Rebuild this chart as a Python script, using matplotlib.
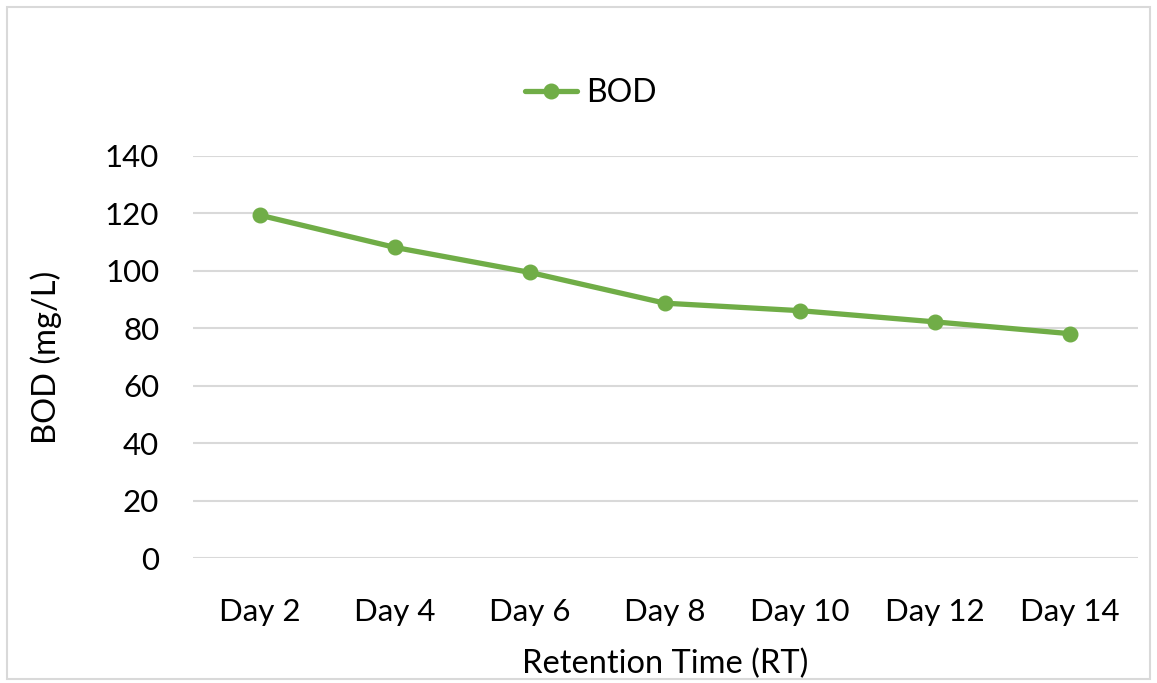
import matplotlib
matplotlib.use("Agg")
import matplotlib.pyplot as plt
from matplotlib.patches import Rectangle

categories = ["Day 2", "Day 4", "Day 6", "Day 8", "Day 10", "Day 12", "Day 14"]
bod_values = [119.3, 108.1, 99.4, 88.7, 86.1, 82.2, 78.1]
y_ticks = [0, 20, 40, 60, 80, 100, 120, 140]

plt.rcParams['font.family'] = ['Lato', 'DejaVu Sans']

W, H = 1157, 683
fig = plt.figure(figsize=(W / 100, H / 100), dpi=100)
fig.patch.set_facecolor("white")

# outer chart border
fig.patches.append(Rectangle((7 / W, 1 - 679 / H), (1150 - 7) / W, (679 - 7) / H,
                             transform=fig.transFigure, fill=False,
                             edgecolor="#D9D9D9", linewidth=1.5))

left, right = 192.5 / W, 1137.5 / W
bottom, top = 1 - 558.2 / H, 1 - 155.7 / H
ax = fig.add_axes([left, bottom, right - left, top - bottom])

x = list(range(len(categories)))
ax.plot(x, bod_values, color="#70AD47", linewidth=3.8, marker="o",
        markersize=10.5, label="BOD", zorder=3, solid_capstyle="round")

ax.set_xlim(-0.5, len(categories) - 0.5)
ax.set_ylim(0, 140)
ax.set_yticks(y_ticks)
ax.set_xticks(x)
ax.set_xticklabels(categories)

for s in ax.spines.values():
    s.set_visible(False)
ax.grid(axis="y", color="#D9D9D9", linewidth=1.5, zorder=0)
ax.set_axisbelow(True)
ax.tick_params(axis="both", length=0, labelsize=22.5, colors="black")
ax.tick_params(axis="y", pad=24)
ax.tick_params(axis="x", pad=29)

ax.set_ylabel("BOD (mg/L)", fontsize=23.5, labelpad=31)
ax.set_xlabel("Retention Time (RT)", fontsize=23.5, labelpad=16)

leg = ax.legend(loc="center", bbox_to_anchor=(591 / W, 1 - 93 / H),
                bbox_transform=fig.transFigure, frameon=False, fontsize=23,
                handlelength=1.6, handletextpad=0.3)

fig.savefig("out.png", dpi=100, facecolor="white")
